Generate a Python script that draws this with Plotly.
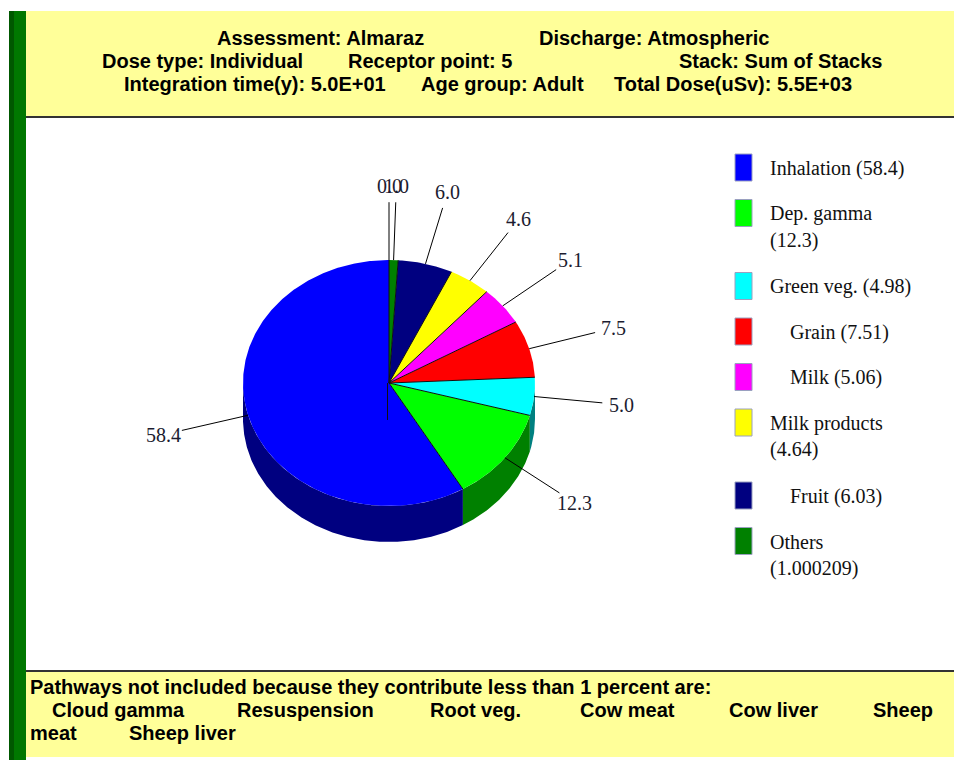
import math
import plotly.graph_objects as go

# ---- data -------------------------------------------------------------
pathways = ["Inhalation", "Dep. gamma", "Green veg.", "Grain", "Milk",
            "Milk products", "Fruit", "Others"]
percent = [58.4, 12.3, 4.98, 7.51, 5.06, 4.64, 6.03, 1.000209]
unlisted_percent = 0.0

top_colors = ["#0000FF", "#00FF00", "#00FFFF", "#FF0000", "#FF00FF",
              "#FFFF00", "#000080", "#008000"]
side_colors = ["#000080", "#008000", "#008080", "#800000", "#800080",
               "#808000", "#000040", "#004000"]

legend_wrapped = [False, True, False, False, False, True, False, True]
legend_indented = [False, False, False, True, True, False, True, False]

header_rows = [
    ["Assessment: Almaraz", "Discharge: Atmospheric"],
    ["Dose type: Individual", "Receptor point: 5", "Stack: Sum of Stacks"],
    ["Integration time(y): 5.0E+01", "Age group: Adult", "Total Dose(uSv): 5.5E+03"],
]
excluded_note = "Pathways not included because they contribute less than 1 percent are:"
excluded = ["Cloud gamma", "Resuspension", "Root veg.", "Cow meat",
            "Cow liver", "Sheep meat", "Sheep liver"]

# ---- page layout (pixels) ---------------------------------------------
W, H = 954, 760
YELLOW = "#FFFF99"
header_x = [[215, 537], [100, 346, 677], [122, 419, 612]]
header_y = [38, 61, 84]
excluded_x = [[50, 235, 428, 578, 727, 871], [28, 127]]
excluded_y = [687, 710, 733]

CX, CY, RX, RY, DEPTH = 389, 383, 146, 123, 36
LEAD_END, LABEL_POS = 1.47, 1.6

SANS = "Liberation Sans, Arial, sans-serif"
SERIF = "Liberation Serif, Times New Roman, serif"

fig = go.Figure()
shapes = []
ann = []

# backgrounds: green side bar, header box, footer box
shapes += [
    dict(type="rect", x0=9, x1=26, y0=11, y1=H, fillcolor="#007800", line_width=0, layer="below"),
    dict(type="rect", x0=9, x1=14, y0=11, y1=H, fillcolor="#005800", line_width=0, layer="below"),
    dict(type="rect", x0=26, x1=W, y0=11, y1=116, fillcolor=YELLOW, line_width=0, layer="below"),
    dict(type="line", x0=26, x1=W, y0=117, y1=117, line=dict(color="#333333", width=2)),
    dict(type="rect", x0=26, x1=W, y0=671, y1=757, fillcolor=YELLOW, line_width=0, layer="below"),
    dict(type="line", x0=26, x1=W, y0=671, y1=671, line=dict(color="#333333", width=2)),
]

# header text
for row, xs, y in zip(header_rows, header_x, header_y):
    for txt, x in zip(row, xs):
        ann.append(dict(x=x, y=y, text=f"<b>{txt}</b>", xanchor="left", yanchor="middle",
                        showarrow=False, font=dict(family=SANS, size=20, color="#000000")))

# footer text: excluded pathways, word-wrapped onto two rows
last_words = excluded[5].split(" ")
footer_rows = [excluded[:5] + [last_words[0]], [last_words[1], excluded[6]]]
ann.append(dict(x=28, y=excluded_y[0], text=f"<b>{excluded_note}</b>", xanchor="left",
                yanchor="middle", showarrow=False,
                font=dict(family=SANS, size=20, color="#000000")))
for row, xs, y in zip(footer_rows, excluded_x, excluded_y[1:]):
    for txt, x in zip(row, xs):
        ann.append(dict(x=x, y=y, text=f"<b>{txt}</b>", xanchor="left", yanchor="middle",
                        showarrow=False, font=dict(family=SANS, size=20, color="#000000")))

# ---- pie geometry -----------------------------------------------------
total = sum(percent) + unlisted_percent


def pt(deg, s=1.0, dy=0.0):
    r = math.radians(deg)
    return CX + s * RX * math.cos(r), CY - s * RY * math.sin(r) + dy


def arc(a0, a1, dy=0.0, step=0.5):
    n = max(2, int(abs(a1 - a0) / step) + 1)
    return [pt(a0 + (a1 - a0) * i / (n - 1), dy=dy) for i in range(n)]


bounds = []
a = 90.0
for v in percent:
    a1 = a + 360.0 * v / total
    bounds.append((a, a1))
    a = a1


def add_poly(points, color):
    xs = [p[0] for p in points] + [points[0][0]]
    ys = [p[1] for p in points] + [points[0][1]]
    fig.add_trace(go.Scatter(x=xs, y=ys, mode="lines", fill="toself", fillcolor=color,
                             line=dict(width=0, color=color), hoverinfo="skip",
                             showlegend=False))


# side walls on the front half of the disc
for (a0, a1), col in zip(bounds, side_colors):
    lo, hi = max(a0, 180.0), min(a1, 360.0)
    if hi > lo:
        add_poly(arc(lo, hi) + arc(hi, lo, dy=DEPTH), col)

# top faces
for (a0, a1), col in zip(bounds, top_colors):
    add_poly([(CX, CY)] + arc(a0, a1), col)

# slice edges and centre post
ex, ey = [], []
for a0, _ in bounds:
    p = pt(a0)
    ex += [CX, p[0], None]
    ey += [CY, p[1], None]
ex += [CX - 1.5, CX - 1.5, None]
ey += [CY, CY + DEPTH + 1, None]
fig.add_trace(go.Scatter(x=ex, y=ey, mode="lines", line=dict(color="#101010", width=1),
                         hoverinfo="skip", showlegend=False))

# leader lines and value labels
mids = [(a0 + a1) / 2 for a0, a1 in bounds] + [bounds[-1][1]]
vals = percent + [unlisted_percent]
lx, ly = [], []
for m, v in zip(mids, vals):
    p0, p1, pl = pt(m), pt(m, LEAD_END), pt(m, LABEL_POS)
    lx += [p0[0], p1[0], None]
    ly += [p0[1], p1[1], None]
    ann.append(dict(x=pl[0], y=pl[1], text=f"{v:.1f}", xanchor="center", yanchor="middle",
                    showarrow=False, font=dict(family=SERIF, size=20, color="#1c1c30")))
fig.add_trace(go.Scatter(x=lx, y=ly, mode="lines", line=dict(color="#000000", width=1),
                         hoverinfo="skip", showlegend=False))

# ---- legend -----------------------------------------------------------
y = 154.0
for name, v, col, wrap, indent in zip(pathways, percent, top_colors,
                                      legend_wrapped, legend_indented):
    shapes.append(dict(type="rect", x0=735, x1=752, y0=y, y1=y + 27, fillcolor=col,
                       line=dict(color="#9aa0c0", width=1)))
    lines = [name, f"({v})"] if wrap else [f"{name} ({v})"]
    for k, line in enumerate(lines):
        ann.append(dict(x=788 if indent else 768, y=y + 14 + 26.5 * k, text=line,
                        xanchor="left", yanchor="middle", showarrow=False,
                        font=dict(family=SERIF, size=20, color="#111111")))
    y += 45.5 + 27.5 * (len(lines) - 1)

fig.update_layout(
    width=W, height=H, autosize=False,
    margin=dict(l=0, r=0, t=0, b=0, pad=0),
    paper_bgcolor="#FFFFFF", plot_bgcolor="#FFFFFF",
    xaxis=dict(range=[0, W], visible=False, fixedrange=True),
    yaxis=dict(range=[H, 0], visible=False, fixedrange=True),
    shapes=shapes, annotations=ann, showlegend=False,
)

fig.write_html("out.html")
